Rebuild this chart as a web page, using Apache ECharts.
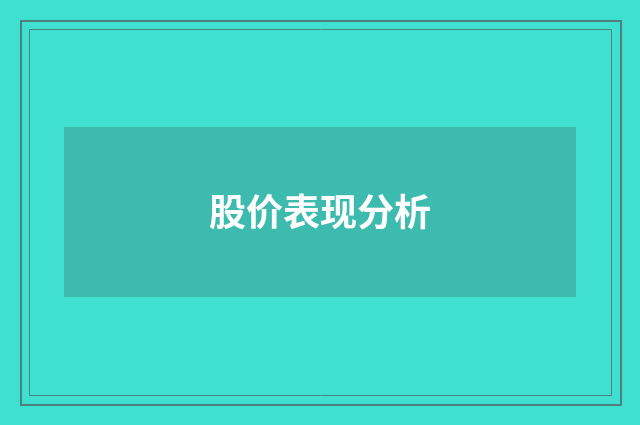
<!DOCTYPE html>
<html>
<head>
<meta charset="utf-8">
<script src="https://cdn.jsdelivr.net/npm/echarts@6/dist/echarts.min.js"></script>
<style>
html,body{margin:0;padding:0;background:#40E0D0;}
#main{width:640px;height:425px;}
</style>
</head>
<body>
<div id="main"></div>
<script>
const titleLines = ['股价表现分析'];

const chart = echarts.init(document.getElementById('main'), null, {renderer: 'canvas'});
chart.setOption({
  backgroundColor: '#40E0D0',
  animation: false,
  graphic: [
    {type: 'rect', shape: {x: 21, y: 21, width: 600, height: 384}, style: {fill: 'none', stroke: '#4F7F7F', lineWidth: 2}},
    {type: 'rect', shape: {x: 29.5, y: 29.5, width: 582, height: 366}, style: {fill: 'none', stroke: '#4F7F7F', lineWidth: 1}},
    {type: 'rect', shape: {x: 64, y: 127, width: 512, height: 170}, style: {fill: '#3CBBAE'}},
    {type: 'text', x: 320, y: 212, style: {
      text: titleLines[0], fill: '#ffffff', align: 'center', verticalAlign: 'middle',
      font: 'bold 37px "Noto Sans CJK SC", sans-serif'
    }}
  ]
});
</script>
</body>
</html>
